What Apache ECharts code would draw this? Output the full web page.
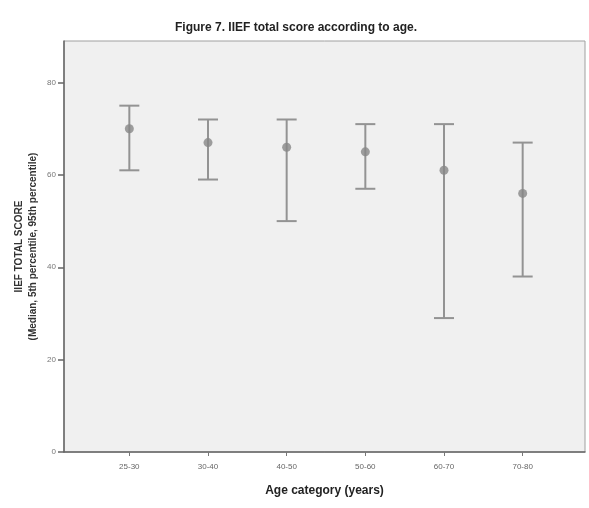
<!DOCTYPE html>
<html>
<head>
<meta charset="utf-8">
<script src="https://cdn.jsdelivr.net/npm/echarts@6/dist/echarts.min.js"></script>
<style>html,body{margin:0;padding:0;background:#fff}#c{width:589px;height:508px}</style>
</head>
<body>
<div id="c"></div>
<script>
const categories = ["25-30", "30-40", "40-50", "50-60", "60-70", "70-80"];
const medians = [70, 67, 66, 65, 61, 56];
const p5 = [61, 59, 50, 57, 29, 38];
const p95 = [75, 72, 72, 71, 71, 67];
const yTicks = [0, 20, 40, 60, 80];

const chart = echarts.init(document.getElementById('c'));
const errData = categories.map((c, i) => [i, p5[i], p95[i]]);
const medData = categories.map((c, i) => [i, medians[i]]);

chart.setOption({
  animation: false,
  backgroundColor: '#ffffff',
  title: {
    text: 'Figure 7. IIEF total score according to age.',
    left: 291, top: 17, textAlign: 'center',
    textStyle: { fontFamily: 'Liberation Sans', fontSize: 12, fontWeight: 'bold', color: '#222' }
  },
  grid: [
    { left: 64, right: 4, top: 41, bottom: 56, show: true, backgroundColor: '#f0f0f0', borderColor: '#a0a0a0', borderWidth: 1 },
    { left: 90, right: 27, top: 41, bottom: 56, show: false }
  ],
  xAxis: [
    { gridIndex: 0, type: 'value', min: 0, max: 1, show: true,
      axisLine: { show: true, lineStyle: { color: '#666', width: 1.5 } },
      axisTick: { show: false }, axisLabel: { show: false }, splitLine: { show: false },
      name: 'Age category (years)', nameLocation: 'middle', nameGap: 33,
      nameTextStyle: { fontFamily: 'Liberation Sans', fontSize: 12, fontWeight: 'bold', color: '#222' }
    },
    { gridIndex: 1, type: 'category', data: categories, boundaryGap: true,
      axisLine: { show: false },
      axisTick: { show: true, alignWithLabel: true, length: 4, inside: false, lineStyle: { color: '#777' } },
      axisLabel: { fontFamily: 'Liberation Sans', fontSize: 8, color: '#666', margin: 11 },
      splitLine: { show: false }
    }
  ],
  yAxis: [
    { gridIndex: 0, type: 'value', min: 0, max: 89,
      axisLine: { show: true, lineStyle: { color: '#666', width: 1.5 } },
      axisTick: { show: true, length: 6, customValues: yTicks, lineStyle: { color: '#666', width: 1.5 } },
      axisLabel: { fontFamily: 'Liberation Sans', fontSize: 8, color: '#777', margin: 8, customValues: yTicks },
      splitLine: { show: false },
      name: 'IIEF TOTAL SCORE\n(Median, 5th percentile, 95th percentile)', nameLocation: 'middle', nameGap: 24,
      nameMoveOverlap: false,
      nameTextStyle: { fontFamily: 'Liberation Sans', fontSize: 10, fontWeight: 'bold', color: '#333', lineHeight: 14 }
    },
    { gridIndex: 1, type: 'value', min: 0, max: 89, show: false }
  ],
  series: [
    {
      type: 'custom', xAxisIndex: 1, yAxisIndex: 1, data: errData,
      renderItem: function (params, api) {
        const x = api.value(0);
        const lo = api.coord([x, api.value(1)]);
        const hi = api.coord([x, api.value(2)]);
        const hw = 10;
        const st = { stroke: '#939393', lineWidth: 2 };
        return { type: 'group', children: [
          { type: 'line', shape: { x1: lo[0], y1: lo[1], x2: hi[0], y2: hi[1] }, style: st },
          { type: 'line', shape: { x1: lo[0] - hw, y1: lo[1], x2: lo[0] + hw, y2: lo[1] }, style: st },
          { type: 'line', shape: { x1: hi[0] - hw, y1: hi[1], x2: hi[0] + hw, y2: hi[1] }, style: st }
        ]};
      }
    },
    {
      type: 'scatter', xAxisIndex: 1, yAxisIndex: 1, data: medData,
      symbol: 'circle', symbolSize: 9, itemStyle: { color: '#878787' }
    }
  ]
});
</script>
</body>
</html>
